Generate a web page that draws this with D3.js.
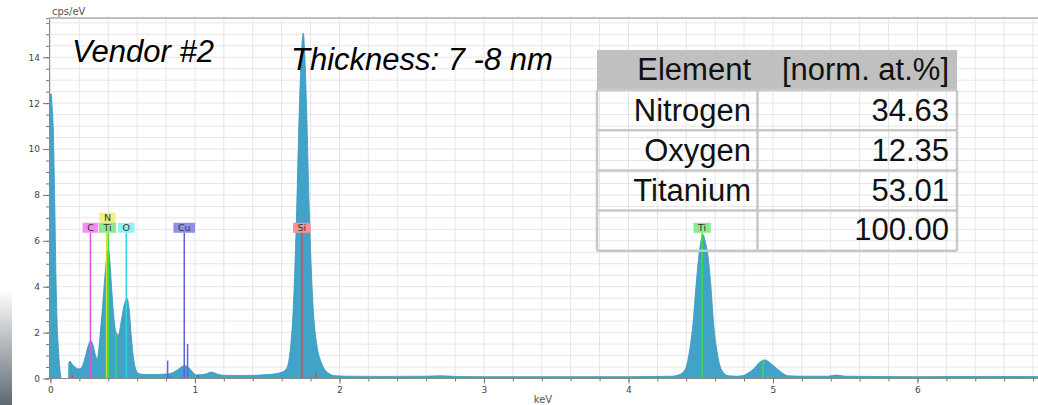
<!DOCTYPE html>
<html>
<head>
<meta charset="utf-8">
<script src="https://cdn.jsdelivr.net/npm/d3@7"></script>
<style>
body { margin: 0; background: #fff; }
svg { display: block; }
</style>
</head>
<body>
<script>
// EDS spectrum (keV / cps per eV)
var specKeV = [0.000, 0.006, 0.012, 0.020, 0.026, 0.031, 0.035, 0.038, 0.041, 0.047, 0.054, 0.060, 0.068, 0.075, 0.125,
               0.128, 0.135, 0.150, 0.170, 0.190, 0.210, 0.235, 0.260, 0.278, 0.295, 0.310, 0.324, 0.335, 0.345, 0.355,
               0.365, 0.380, 0.392, 0.402, 0.410, 0.425, 0.440, 0.455, 0.470, 0.490, 0.510, 0.530, 0.545, 0.560, 0.575,
               0.590, 0.610, 0.640, 0.700, 0.780, 0.830, 0.860, 0.890, 0.910, 0.930, 0.950, 0.970, 0.990, 1.010, 1.050,
               1.080, 1.115, 1.150, 1.200, 1.300, 1.400, 1.500, 1.560, 1.600, 1.630, 1.646, 1.664, 1.680, 1.704, 1.722,
               1.740, 1.750, 1.758, 1.773, 1.791, 1.819, 1.842, 1.877, 1.920, 1.970, 2.050, 2.300, 2.600, 2.700, 2.800,
               3.000, 3.500, 4.000, 4.300, 4.345, 4.391, 4.420, 4.449, 4.467, 4.490, 4.508, 4.518, 4.530, 4.548, 4.571,
               4.587, 4.615, 4.645, 4.690, 4.750, 4.795, 4.830, 4.870, 4.910, 4.945, 4.980, 5.026, 5.070, 5.106, 5.200,
               5.380, 5.440, 5.500, 6.000, 6.500, 6.900];
var specCps = [12.4, 12.4, 11.8, 10.8, 9.0, 7.2, 5.6, 4.5, 3.7, 2.3, 1.4, 0.8, 0.25, 0.0, 0.0,
               0.7, 0.75, 0.62, 0.5, 0.42, 0.45, 0.8, 1.4, 1.65, 1.45, 1.05, 0.84, 1.3, 2.0, 2.7,
               3.5, 4.7, 5.4, 5.6, 5.2, 3.8, 2.6, 2.0, 1.9, 2.5, 3.2, 3.5, 3.0, 1.8, 0.9,
               0.4, 0.22, 0.18, 0.17, 0.19, 0.22, 0.3, 0.42, 0.52, 0.56, 0.52, 0.38, 0.24, 0.16, 0.17,
               0.21, 0.28, 0.2, 0.14, 0.13, 0.14, 0.17, 0.21, 0.27, 0.4, 0.66, 1.53, 3.0, 7.35, 11.7,
               14.5, 15.05, 14.4, 11.7, 7.35, 3.0, 1.53, 0.66, 0.25, 0.12, 0.1, 0.09, 0.1, 0.12, 0.09,
               0.08, 0.08, 0.08, 0.1, 0.15, 0.37, 1.1, 2.55, 4.0, 5.5, 6.15, 6.26, 6.0, 5.46, 4.0,
               2.55, 1.1, 0.37, 0.12, 0.1, 0.13, 0.25, 0.44, 0.72, 0.81, 0.68, 0.44, 0.22, 0.12, 0.1,
               0.1, 0.15, 0.1, 0.08, 0.09, 0.08];

// identified lines with a label
var peakNames = ["C", "N", "Ti", "O", "Cu", "Si", "Ti"];
var peakKeV   = [0.277, 0.389, 0.401, 0.525, 0.926, 1.740, 4.510];
var peakStack = [0, 1, 0, 0, 0, 0, 0];

// short unlabelled lines
var minorEl  = ["Si", "Ti", "Cu", "Cu", "Cu", "Cu", "Si", "Ti", "Ti"];
var minorKeV = [0.151, 0.453, 0.811, 0.829, 0.949, 1.023, 1.837, 4.932, 4.963];
var minorCps = [0.17, 2.0, 0.78, 0.1, 1.5, 0.15, 0.25, 0.78, 0.12];

var tableHead  = ["Element", "[norm. at.%]"];
var tableNames = ["Nitrogen", "Oxygen", "Titanium", ""];
var tableVals  = ["34.63", "12.35", "53.01", "100.00"];

var lineColor = {C: "#e052e0", N: "#d6de36", Ti: "#3fdc3f", O: "#2fd4e0", Cu: "#6060e4", Si: "#e04646"};
var boxColor  = {C: "#f48ef4", N: "#f0ee88", Ti: "#8ee88e", O: "#92f0f2", Cu: "#8e8ef0", Si: "#f49494"};

var W = 1038, H = 405;
var svg = d3.select("body").append("svg").attr("width", W).attr("height", H);

var x = d3.scaleLinear().domain([-0.01, 6.85]).range([49, 49 + 6.86 * 144.5]);
var y = d3.scaleLinear().domain([0, 15.71]).range([378.5, 18]);

// grey strip at the lower left edge of the slide
var grad = svg.append("defs").append("linearGradient").attr("id", "strip")
  .attr("x1", 0).attr("y1", 0).attr("x2", 0).attr("y2", 1);
grad.append("stop").attr("offset", "0%").attr("stop-color", "#ffffff");
grad.append("stop").attr("offset", "100%").attr("stop-color", "#5e6872");
svg.append("rect").attr("x", 0).attr("y", 290).attr("width", 12).attr("height", 115)
  .attr("fill", "url(#strip)");

// grid
var g = svg.append("g");
g.selectAll("line.vg").data(d3.range(0, 6.81, 0.2)).enter().append("line")
  .attr("x1", function(d) { return x(d); }).attr("x2", function(d) { return x(d); })
  .attr("y1", y(15.71)).attr("y2", y(0))
  .attr("stroke", "#e6e6e6").attr("stroke-width", 1);
g.selectAll("line.hg").data(d3.range(0.5, 15.6, 0.5)).enter().append("line")
  .attr("x1", x(-0.01)).attr("x2", W)
  .attr("y1", function(d) { return y(d); }).attr("y2", function(d) { return y(d); })
  .attr("stroke", "#e6e6e6").attr("stroke-width", 1);

// spectrum
var spec = specKeV.map(function(k, i) { return [k, specCps[i]]; });
var area = d3.area()
  .x(function(d) { return x(d[0]); })
  .y0(y(0))
  .y1(function(d) { return y(d[1]); })
  .curve(d3.curveMonotoneX);
svg.append("path").datum(spec).attr("d", area)
  .attr("fill", "#42a3c8").attr("stroke", "#3796bd").attr("stroke-width", 0.8);

// short lines
svg.selectAll("line.minor").data(minorKeV).enter().append("line")
  .attr("x1", function(d) { return x(d); }).attr("x2", function(d) { return x(d); })
  .attr("y1", y(0)).attr("y2", function(d, i) { return y(minorCps[i]); })
  .attr("stroke", function(d, i) { return lineColor[minorEl[i]]; })
  .attr("stroke-width", 1.5);

// labelled lines, they reach up to the label row
var labelCps = 6.35;
svg.selectAll("line.peak").data(peakKeV).enter().append("line")
  .attr("x1", function(d) { return x(d); }).attr("x2", function(d) { return x(d); })
  .attr("y1", y(0)).attr("y2", y(labelCps))
  .attr("stroke", function(d, i) { return lineColor[peakNames[i]]; })
  .attr("stroke-width", 1.5);

// labels: the N label is stacked above the Ti L label
var lab = svg.selectAll("g.lab").data(peakNames).enter().append("g");
lab.each(function(d, i) {
  var gg = d3.select(this);
  var cx = x(peakKeV[i]);
  if (i == 1 || i == 2) cx = (x(peakKeV[1]) + x(peakKeV[2])) / 2;
  var t = gg.append("text").text(d)
    .attr("font-family", "DejaVu Sans").attr("font-size", "9.5px").attr("fill", "#333")
    .attr("text-anchor", "middle");
  var tw = t.node().getComputedTextLength();
  var bw = Math.max(15, tw + 9);
  var top = y(labelCps) - 10 * (peakStack[i] + 1);
  gg.insert("rect", "text").attr("x", cx - bw / 2).attr("y", top)
    .attr("width", bw).attr("height", 10).attr("fill", boxColor[d]);
  t.attr("x", cx).attr("y", top + 8.5);
});

// axes
var axisY = svg.append("g").attr("transform", "translate(" + x(-0.01) + ",0)");
axisY.call(d3.axisLeft(y).tickValues(d3.range(0, 15.6, 0.5)).tickSize(3).tickFormat(""));
var axisY2 = svg.append("g").attr("transform", "translate(" + x(-0.01) + ",0)");
axisY2.call(d3.axisLeft(y).tickValues(d3.range(0, 15, 2)).tickSize(6).tickPadding(3));
var axisX = svg.append("g").attr("transform", "translate(0," + y(0) + ")");
axisX.call(d3.axisBottom(x).tickValues(d3.range(0, 6.81, 0.2)).tickSize(3).tickFormat(""));
var axisX2 = svg.append("g").attr("transform", "translate(0," + y(0) + ")");
axisX2.call(d3.axisBottom(x).tickValues(d3.range(0, 7, 1)).tickSize(5).tickPadding(3).tickFormat(d3.format("d")));
svg.selectAll(".domain").attr("stroke", "#8a8a8a");
svg.selectAll(".tick line").attr("stroke", "#777");
svg.selectAll(".tick text").attr("font-family", "DejaVu Sans").attr("font-size", "9px").attr("fill", "#444");
axisX.select(".domain").attr("d", "M" + x(-0.01) + ",0H" + W);
axisX2.select(".domain").remove();
axisY2.select(".domain").remove();

// top frame line
svg.append("line").attr("x1", x(-0.01)).attr("x2", W).attr("y1", y(15.71)).attr("y2", y(15.71))
  .attr("stroke", "#a8a8a8").attr("stroke-width", 1.5);

svg.append("text").text("cps/eV").attr("x", 52).attr("y", 15)
  .attr("font-family", "DejaVu Sans").attr("font-size", "10px").attr("fill", "#555");
svg.append("text").text("keV").attr("x", 543).attr("y", 403).attr("text-anchor", "middle")
  .attr("font-family", "DejaVu Sans").attr("font-size", "10px").attr("fill", "#555");

// annotations
svg.append("text").text("Vendor #2").attr("x", 72).attr("y", 62)
  .attr("font-family", "Liberation Sans").attr("font-style", "italic").attr("font-size", "31px").attr("fill", "#000");
svg.append("text").text("Thickness: 7 -8 nm").attr("x", 291).attr("y", 70)
  .attr("font-family", "Liberation Sans").attr("font-style", "italic").attr("font-size", "31px").attr("fill", "#000");

// table
var tx0 = 597, tx1 = 757.5, tx2 = 957, ty0 = 50, rowH = 40.2;
var tab = svg.append("g");
tab.append("rect").attr("x", tx0).attr("y", ty0).attr("width", tx2 - tx0).attr("height", 40).attr("fill", "#c0c0c0");
var rowsY = d3.range(0, 5).map(function(i) { return ty0 + 40 + i * rowH; });
tab.selectAll("line.h").data(rowsY).enter().append("line")
  .attr("x1", tx0).attr("x2", tx2)
  .attr("y1", function(d) { return d; }).attr("y2", function(d) { return d; })
  .attr("stroke", "#c8c8c8").attr("stroke-width", 2.5);
tab.selectAll("line.v").data([tx0, tx1, tx2]).enter().append("line")
  .attr("x1", function(d) { return d; }).attr("x2", function(d) { return d; })
  .attr("y1", ty0 + 40).attr("y2", rowsY[4])
  .attr("stroke", "#c8c8c8").attr("stroke-width", 2.5);
var tfont = function(s) {
  return s.attr("font-family", "Liberation Sans").attr("font-size", "31px").attr("fill", "#111")
    .attr("text-anchor", "end");
};
tfont(tab.append("text").text(tableHead[0]).attr("x", 751).attr("y", 79.5));
tfont(tab.append("text").text(tableHead[1]).attr("x", 949).attr("y", 79.5));
tfont(tab.selectAll("text.n").data(tableNames).enter().append("text")
  .text(function(d) { return d; }).attr("x", 751)
  .attr("y", function(d, i) { return 121 + i * 39.8; }));
tfont(tab.selectAll("text.v").data(tableVals).enter().append("text")
  .text(function(d) { return d; }).attr("x", 949)
  .attr("y", function(d, i) { return 121 + i * 39.8; }));
</script>
</body>
</html>
